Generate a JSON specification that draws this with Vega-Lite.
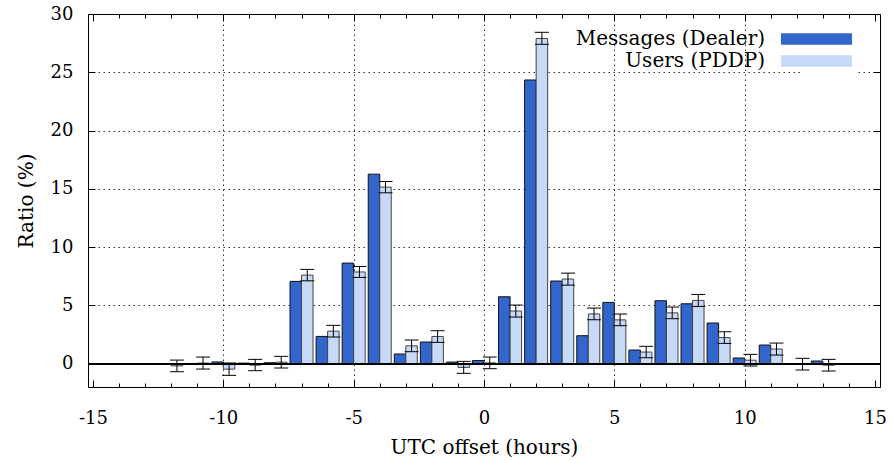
{
  "$schema": "https://vega.github.io/schema/vega-lite/v6.json",
  "width": 792,
  "height": 373,
  "autosize": {"type": "none"},
  "padding": {"left": 88, "top": 14, "right": 13, "bottom": 74},
  "config": {
    "font": "DejaVu Serif",
    "view": {"stroke": "#000", "strokeWidth": 1},
    "axis": {
      "labelFont": "DejaVu Serif",
      "labelFontSize": 18,
      "labelColor": "#000",
      "titleFont": "DejaVu Serif",
      "titleFontSize": 20,
      "titleFontWeight": "normal",
      "titleColor": "#000",
      "domain": false,
      "tickColor": "#000",
      "tickWidth": 1,
      "gridColor": "#000",
      "gridDash": [1.5, 3.5],
      "gridWidth": 1
    },
    "legend": {
      "labelFont": "DejaVu Serif",
      "labelFontSize": 20,
      "labelColor": "#000"
    }
  },
  "data": {
    "values": [
      {"offset": -12, "series": "Messages (Dealer)", "value": 0.0},
      {"offset": -11, "series": "Messages (Dealer)", "value": 0.02},
      {"offset": -10, "series": "Messages (Dealer)", "value": 0.15},
      {"offset": -9, "series": "Messages (Dealer)", "value": 0.05},
      {"offset": -8, "series": "Messages (Dealer)", "value": 0.08},
      {"offset": -7, "series": "Messages (Dealer)", "value": 7.06},
      {"offset": -6, "series": "Messages (Dealer)", "value": 2.34},
      {"offset": -5, "series": "Messages (Dealer)", "value": 8.63},
      {"offset": -4, "series": "Messages (Dealer)", "value": 16.26},
      {"offset": -3, "series": "Messages (Dealer)", "value": 0.83},
      {"offset": -2, "series": "Messages (Dealer)", "value": 1.86},
      {"offset": -1, "series": "Messages (Dealer)", "value": 0.14},
      {"offset": 0, "series": "Messages (Dealer)", "value": 0.27},
      {"offset": 1, "series": "Messages (Dealer)", "value": 5.74},
      {"offset": 2, "series": "Messages (Dealer)", "value": 24.34},
      {"offset": 3, "series": "Messages (Dealer)", "value": 7.09},
      {"offset": 4, "series": "Messages (Dealer)", "value": 2.4},
      {"offset": 5, "series": "Messages (Dealer)", "value": 5.26},
      {"offset": 6, "series": "Messages (Dealer)", "value": 1.17},
      {"offset": 7, "series": "Messages (Dealer)", "value": 5.4},
      {"offset": 8, "series": "Messages (Dealer)", "value": 5.14},
      {"offset": 9, "series": "Messages (Dealer)", "value": 3.49},
      {"offset": 10, "series": "Messages (Dealer)", "value": 0.49},
      {"offset": 11, "series": "Messages (Dealer)", "value": 1.6},
      {"offset": 12, "series": "Messages (Dealer)", "value": 0.0},
      {"offset": 13, "series": "Messages (Dealer)", "value": 0.23},
      {"offset": -12, "series": "Users (PDDP)", "value": -0.19, "lo": -0.69, "hi": 0.31},
      {"offset": -11, "series": "Users (PDDP)", "value": 0.05, "lo": -0.46, "hi": 0.57},
      {"offset": -10, "series": "Users (PDDP)", "value": -0.47, "lo": -1.0, "hi": 0.06},
      {"offset": -9, "series": "Users (PDDP)", "value": -0.12, "lo": -0.6, "hi": 0.37},
      {"offset": -8, "series": "Users (PDDP)", "value": 0.13, "lo": -0.37, "hi": 0.63},
      {"offset": -7, "series": "Users (PDDP)", "value": 7.6, "lo": 7.11, "hi": 8.09},
      {"offset": -6, "series": "Users (PDDP)", "value": 2.79, "lo": 2.29, "hi": 3.29},
      {"offset": -5, "series": "Users (PDDP)", "value": 7.87, "lo": 7.4, "hi": 8.34},
      {"offset": -4, "series": "Users (PDDP)", "value": 15.15, "lo": 14.66, "hi": 15.63},
      {"offset": -3, "series": "Users (PDDP)", "value": 1.53, "lo": 1.03, "hi": 2.03},
      {"offset": -2, "series": "Users (PDDP)", "value": 2.33, "lo": 1.83, "hi": 2.83},
      {"offset": -1, "series": "Users (PDDP)", "value": -0.32, "lo": -0.83, "hi": 0.2},
      {"offset": 0, "series": "Users (PDDP)", "value": 0.07, "lo": -0.43, "hi": 0.57},
      {"offset": 1, "series": "Users (PDDP)", "value": 4.52, "lo": 4.0, "hi": 5.03},
      {"offset": 2, "series": "Users (PDDP)", "value": 27.9, "lo": 27.4, "hi": 28.43},
      {"offset": 3, "series": "Users (PDDP)", "value": 7.26, "lo": 6.74, "hi": 7.77},
      {"offset": 4, "series": "Users (PDDP)", "value": 4.27, "lo": 3.77, "hi": 4.77},
      {"offset": 5, "series": "Users (PDDP)", "value": 3.76, "lo": 3.26, "hi": 4.26},
      {"offset": 6, "series": "Users (PDDP)", "value": 1.0, "lo": 0.51, "hi": 1.49},
      {"offset": 7, "series": "Users (PDDP)", "value": 4.36, "lo": 3.86, "hi": 4.86},
      {"offset": 8, "series": "Users (PDDP)", "value": 5.43, "lo": 4.91, "hi": 5.94},
      {"offset": 9, "series": "Users (PDDP)", "value": 2.24, "lo": 1.74, "hi": 2.74},
      {"offset": 10, "series": "Users (PDDP)", "value": 0.3, "lo": -0.2, "hi": 0.8},
      {"offset": 11, "series": "Users (PDDP)", "value": 1.26, "lo": 0.74, "hi": 1.77},
      {"offset": 12, "series": "Users (PDDP)", "value": -0.04, "lo": -0.54, "hi": 0.46},
      {"offset": 13, "series": "Users (PDDP)", "value": -0.13, "lo": -0.63, "hi": 0.37}
    ]
  },
  "layer": [
    {
      "transform": [{"filter": "datum.series === 'Messages (Dealer)'"}],
      "mark": {"type": "bar", "width": 11.5, "xOffset": -5.75, "stroke": "#111", "strokeWidth": 1},
      "encoding": {
        "x": {
          "field": "offset",
          "type": "quantitative",
          "scale": {"domain": [-15, 15], "nice": false, "zero": false},
          "axis": {
            "orient": "bottom",
            "title": "UTC offset (hours)",
            "values": [-15, -14, -13, -12, -11, -10, -9, -8, -7, -6, -5, -4, -3, -2, -1, 0, 1, 2, 3, 4, 5, 6, 7, 8, 9, 10, 11, 12, 13, 14, 15],
            "labelExpr": "datum.value % 5 === 0 ? '' + datum.value : ''",
            "tickSize": {"condition": {"test": "datum.value % 5 === 0", "value": -7}, "value": -4},
            "labelPadding": 29,
            "labelFlush": false,
            "labelOverlap": false,
            "titlePadding": 7,
            "grid": true,
            "gridOpacity": {"condition": {"test": "datum.value % 5 === 0 && abs(datum.value) < 15", "value": 0.8}, "value": 0}
          }
        },
        "y": {
          "field": "value",
          "type": "quantitative",
          "scale": {"domain": [-2, 30], "nice": false, "zero": false},
          "axis": {
            "orient": "left",
            "title": "Ratio (%)",
            "values": [0, 5, 10, 15, 20, 25, 30],
            "tickSize": -7,
            "labelPadding": 22,
            "titlePadding": 14,
            "grid": true,
            "gridOpacity": {"condition": {"test": "datum.value > 0 && datum.value < 30", "value": 0.8}, "value": 0}
          }
        },
        "color": {
          "field": "series",
          "type": "nominal",
          "scale": {"domain": ["Messages (Dealer)", "Users (PDDP)"], "range": ["#3366cc", "#c6d9f6"]},
          "legend": {
            "title": null,
            "orient": "none",
            "legendX": 712.5,
            "legendY": 9,
            "symbolType": "M-2.96,-0.48H2.96V0.48H-2.96Z",
            "symbolSize": 576,
            "symbolStrokeWidth": 0,
            "symbolOpacity": 1,
            "labelAlign": "right",
            "labelOffset": -63.5,
            "labelLimit": 300,
            "rowPadding": 0,
            "fillColor": "white",
            "padding": 4
          }
        }
      }
    },
    {
      "transform": [{"filter": "datum.series === 'Users (PDDP)'"}],
      "mark": {"type": "bar", "width": 11.5, "xOffset": 5.75, "stroke": "#444", "strokeWidth": 1},
      "encoding": {
        "x": {"field": "offset", "type": "quantitative", "axis": null},
        "y": {"field": "value", "type": "quantitative", "axis": null},
        "color": {"field": "series", "type": "nominal"}
      }
    },
    {
      "transform": [{"filter": "datum.series === 'Users (PDDP)'"}],
      "mark": {"type": "rule", "xOffset": 5.75, "color": "#000", "strokeWidth": 1},
      "encoding": {
        "x": {
          "field": "offset",
          "type": "quantitative",
          "axis": {
            "orient": "top",
            "title": null,
            "labels": false,
            "grid": false,
            "values": [-15, -14, -13, -12, -11, -10, -9, -8, -7, -6, -5, -4, -3, -2, -1, 0, 1, 2, 3, 4, 5, 6, 7, 8, 9, 10, 11, 12, 13, 14, 15],
            "tickSize": {"condition": {"test": "datum.value % 5 === 0", "value": -7}, "value": -4}
          }
        },
        "y": {
          "field": "lo",
          "type": "quantitative",
          "axis": {
            "orient": "right",
            "title": null,
            "labels": false,
            "grid": false,
            "values": [0, 5, 10, 15, 20, 25, 30],
            "tickSize": -7
          }
        },
        "y2": {"field": "hi"}
      }
    },
    {
      "transform": [{"filter": "datum.series === 'Users (PDDP)'"}],
      "mark": {"type": "tick", "orient": "horizontal", "xOffset": 5.75, "size": 14, "thickness": 1, "color": "#000", "opacity": 1},
      "encoding": {
        "x": {"field": "offset", "type": "quantitative", "axis": null},
        "y": {"field": "lo", "type": "quantitative", "axis": null}
      }
    },
    {
      "transform": [{"filter": "datum.series === 'Users (PDDP)'"}],
      "mark": {"type": "tick", "orient": "horizontal", "xOffset": 5.75, "size": 14, "thickness": 1, "color": "#000", "opacity": 1},
      "encoding": {
        "x": {"field": "offset", "type": "quantitative", "axis": null},
        "y": {"field": "hi", "type": "quantitative", "axis": null}
      }
    },
    {
      "mark": {"type": "rule", "color": "#000", "strokeWidth": 1},
      "encoding": {
        "y": {"datum": 0, "type": "quantitative", "axis": null}
      }
    }
  ],
  "resolve": {"axis": {"x": "independent", "y": "independent"}}
}
